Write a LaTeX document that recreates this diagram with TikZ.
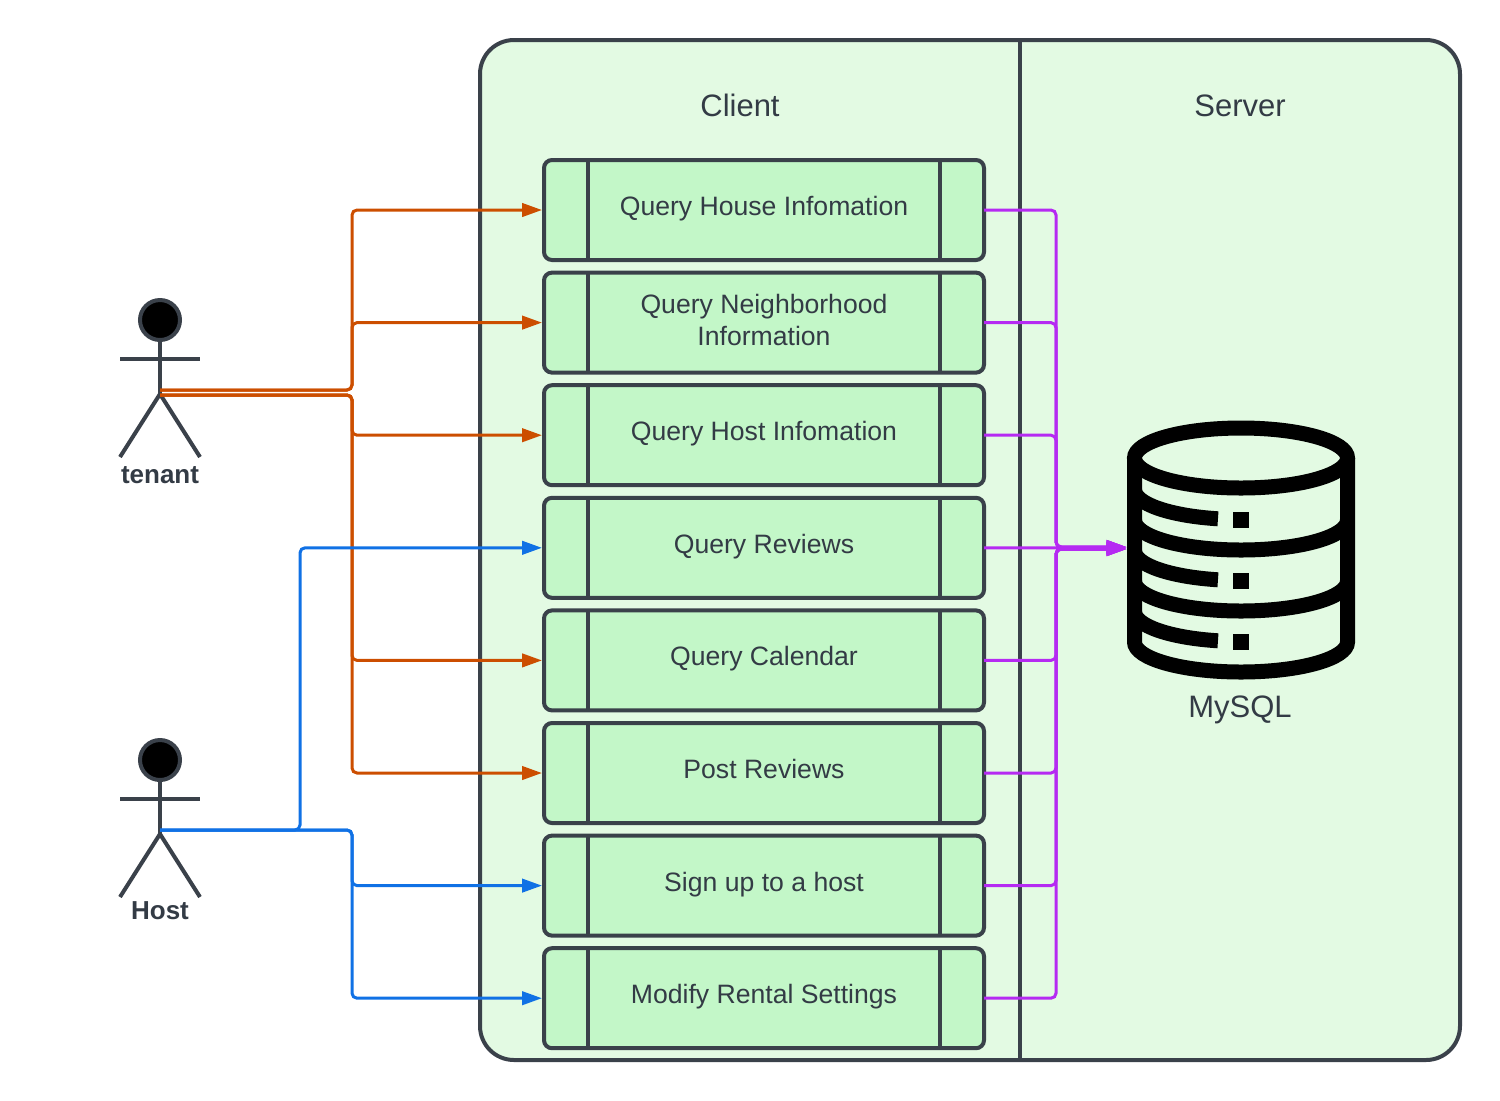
\documentclass[tikz,border=0pt]{standalone}
\usepackage{fontspec}
\setmainfont{Liberation Sans}
\usetikzlibrary{positioning, arrows.meta}
\definecolor{slateline}{HTML}{3A414A}
\definecolor{slatetext}{HTML}{333B45}
\definecolor{poolgreen}{HTML}{E3FAE3}
\definecolor{boxgreen}{HTML}{C3F7C8}
\definecolor{tenantorange}{HTML}{CC4E00}
\definecolor{hostblue}{HTML}{1071E5}
\definecolor{dbpurple}{HTML}{B52AF2}
\newcommand{\topstrut}{\rule[-5.5pt]{0pt}{16.5pt}}
\newcommand{\highstrut}{\rule{0pt}{12pt}}
\tikzstyle{pool} = [draw=slateline, fill=poolgreen, line width=2pt, rounded corners=17pt, minimum width=490pt, minimum height=510pt, outer sep=0pt]
\tikzstyle{lanetitle} = [text=slatetext, font=\fontsize{15.5}{18}\selectfont]
\tikzstyle{procbox} = [draw=slateline, fill=boxgreen, line width=2pt, rounded corners=4pt, minimum width=220pt, minimum height=50pt, outer sep=0pt, align=center, text=slatetext, font=\fontsize{13.3}{16}\selectfont, execute at begin node=\topstrut]
\tikzstyle{procrule} = [draw=slateline, line width=2pt]
\tikzstyle{actorline} = [draw=slateline, line width=2pt]
\tikzstyle{actorname} = [text=slatetext, font=\fontsize{13}{16}\selectfont\bfseries]
\tikzstyle{tenantarrow} = [draw=tenantorange, line width=1.5pt, rounded corners=2.5pt, -{Triangle[length=10pt,width=6.7pt]}, shorten >=1pt]
\tikzstyle{hostarrow} = [draw=hostblue, line width=1.5pt, rounded corners=2.5pt, -{Triangle[length=10pt,width=6.7pt]}, shorten >=1pt]
\tikzstyle{dbarrow} = [draw=dbpurple, line width=1.5pt, rounded corners=2.5pt, -{Triangle[length=10pt,width=6.7pt]}]
\tikzstyle{dbstroke} = [draw=black, line width=7.5pt]
\newcommand{\procrules}[1]{%
	\draw[procrule] ([xshift=22pt]#1.north west) -- ([xshift=22pt]#1.south west);
	\draw[procrule] ([xshift=-22pt]#1.north east) -- ([xshift=-22pt]#1.south east);
}
\begin{document}
\begin{tikzpicture}[x=0.5pt, y=-0.5pt]
	\useasboundingbox (0,0) rectangle (1500,1100);
	% swimlanes
	\node[pool] (pool) at (970,550) {};
	\draw[procrule] ([xshift=25pt]pool.north) -- ([xshift=25pt]pool.south);
	\node[lanetitle, anchor=base] (client) at (740,116) {Client};
	\node[lanetitle, anchor=base] (server) at (1240,116) {Server};

	% boxes of the client
	\node[procbox] (qHouse) at (764,210) {Query House Infomation};
	\node[procbox, below=6.3pt of qHouse] (qNeighbor) {\highstrut Query Neighborhood\\Information};
	\node[procbox, below=6.3pt of qNeighbor] (qHost) {Query Host Infomation};
	\node[procbox, below=6.3pt of qHost] (qReviews) {Query Reviews};
	\node[procbox, below=6.3pt of qReviews] (qCalendar) {Query Calendar};
	\node[procbox, below=6.3pt of qCalendar] (pReviews) {Post Reviews};
	\node[procbox, below=6.3pt of pReviews] (signUp) {Sign up to a host};
	\node[procbox, below=6.3pt of signUp] (modRental) {Modify Rental Settings};
	\procrules{qHouse}
	\procrules{qNeighbor}
	\procrules{qHost}
	\procrules{qReviews}
	\procrules{qCalendar}
	\procrules{pReviews}
	\procrules{signUp}
	\procrules{modRental}

	% actors
	\node[actorline, fill=black, circle, minimum size=20pt, inner sep=0pt, outer sep=0pt] (tenantHead) at (160,320) {};
	\coordinate (tenantHip) at (160,394);
	\draw[actorline] (tenantHead) -- (tenantHip);
	\draw[actorline] (120,358.5) -- (200,358.5);
	\draw[actorline] (120,457) -- (tenantHip) -- (200,457);
	\node[actorname] (tenant) at (160,475) {tenant};

	\node[actorline, fill=black, circle, minimum size=20pt, inner sep=0pt, outer sep=0pt] (hostHead) at (160,760) {};
	\coordinate (hostHip) at (160,834);
	\draw[actorline] (hostHead) -- (hostHip);
	\draw[actorline] (120,798.5) -- (200,798.5);
	\draw[actorline] (120,897) -- (hostHip) -- (200,897);
	\node[actorname] (host) at (160,911) {Host};

	% database
	\node[minimum width=114pt, minimum height=130pt, inner sep=0pt] (mysql) at (1241,547.8) {};
	\draw[dbstroke] (1241,458) ellipse [x radius=53.25pt, y radius=15pt];
	\draw[dbstroke] (1134.5,458) -- (1134.5,642) arc [start angle=180, end angle=360, x radius=53.25pt, y radius=15pt] -- (1347.5,458);
	\draw[dbstroke] (1134.5,520) arc [start angle=180, end angle=360, x radius=53.25pt, y radius=15pt];
	\draw[dbstroke] (1134.5,581) arc [start angle=180, end angle=360, x radius=53.25pt, y radius=15pt];
	\draw[dbstroke] (1134.5,489.5) arc [start angle=180, end angle=257.5, x radius=53.25pt, y radius=15pt];
	\draw[dbstroke] (1134.5,550.5) arc [start angle=180, end angle=257.5, x radius=53.25pt, y radius=15pt];
	\draw[dbstroke] (1134.5,611.5) arc [start angle=180, end angle=257.5, x radius=53.25pt, y radius=15pt];
	\fill[black] (1233,512) rectangle (1249,528);
	\fill[black] (1233,573) rectangle (1249,589);
	\fill[black] (1233,634) rectangle (1249,650);
	\node[lanetitle] (mysqlName) at (1240,710) {MySQL};

	% connectors
	\coordinate (tenantStart) at (160,390);
	\coordinate (tenantStartLow) at (160,395);
	\coordinate (tenantBus) at (352,390);
	\coordinate (tenantBusLow) at (352,395);
	\coordinate (hostStart) at (160,830);
	\coordinate (hostBusNear) at (300,830);
	\coordinate (hostBusFar) at (352,830);
	\coordinate (dbBus) at (1056,547);
	\coordinate (dbBusLow) at (1056,549);

	\draw[tenantarrow] (tenantStart) -- (tenantBus) |- (qHouse.west);
	\draw[tenantarrow] (tenantStart) -- (tenantBus) |- (qNeighbor.west);
	\draw[tenantarrow] (tenantStartLow) -- (tenantBusLow) |- (qHost.west);
	\draw[tenantarrow] (tenantStartLow) -- (tenantBusLow) |- (qCalendar.west);
	\draw[tenantarrow] (tenantStartLow) -- (tenantBusLow) |- (pReviews.west);

	\draw[hostarrow] (hostStart) -- (hostBusNear) |- (qReviews.west);
	\draw[hostarrow] (hostStart) -- (hostBusFar) |- (signUp.west);
	\draw[hostarrow] (hostStart) -- (hostBusFar) |- (modRental.west);

	\draw[dbarrow] (qHouse.east) -| (dbBus) -- (mysql.west |- dbBus);
	\draw[dbarrow] (qNeighbor.east) -| (dbBus) -- (mysql.west |- dbBus);
	\draw[dbarrow] (qHost.east) -| (dbBus) -- (mysql.west |- dbBus);
	\draw[dbarrow] (qReviews.east) -- (mysql.west);
	\draw[dbarrow] (qCalendar.east) -| (dbBusLow) -- (mysql.west |- dbBusLow);
	\draw[dbarrow] (pReviews.east) -| (dbBusLow) -- (mysql.west |- dbBusLow);
	\draw[dbarrow] (signUp.east) -| (dbBusLow) -- (mysql.west |- dbBusLow);
	\draw[dbarrow] (modRental.east) -| (dbBusLow) -- (mysql.west |- dbBusLow);
\end{tikzpicture}
\end{document}
